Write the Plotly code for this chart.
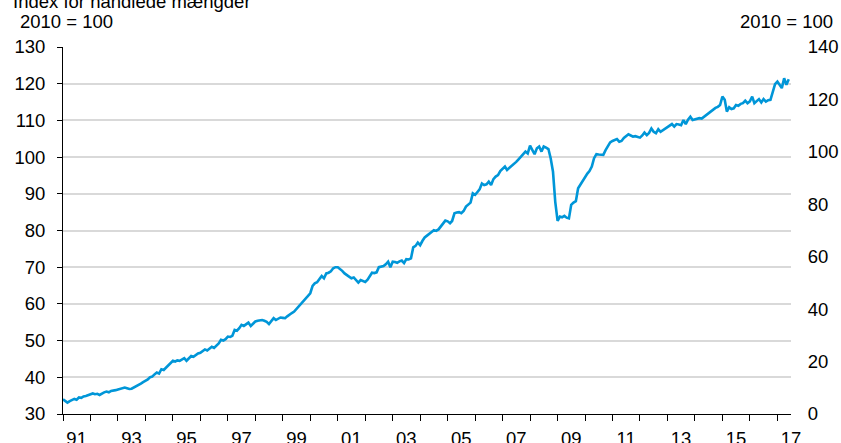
import pandas as pd
import plotly.graph_objects as go

# Monthly index values (2010 = 100)
y1991 = [34.0, 33.6, 33.1, 33.5, 33.9, 34.1, 33.9, 34.5, 34.4, 34.8, 34.9, 35.2]
y1992 = [35.3, 35.6, 35.4, 35.5, 35.2, 35.6, 35.9, 36.1, 35.9, 36.3, 36.3, 36.5]
y1993 = [36.7, 36.9, 37.0, 37.2, 37.0, 36.8, 36.9, 37.2, 37.6, 37.9, 38.3, 38.7]
y1994 = [39.0, 39.4, 40.0, 40.2, 40.8, 41.3, 41.0, 42.2, 42.0, 42.6, 43.4, 43.9]
y1995 = [44.5, 44.3, 44.6, 44.5, 44.9, 45.2, 44.5, 45.3, 45.8, 45.6, 46.1, 46.5]
y1996 = [46.7, 47.2, 47.6, 47.3, 47.9, 48.3, 48.0, 48.6, 49.2, 50.2, 50.0, 50.4]
y1997 = [51.1, 51.0, 51.3, 52.9, 52.7, 53.4, 54.3, 54.0, 54.4, 54.9, 54.0, 54.7]
y1998 = [55.2, 55.4, 55.5, 55.6, 55.4, 55.1, 54.5, 55.3, 56.1, 55.6, 55.9, 56.3]
y1999 = [56.2, 56.1, 56.6, 57.2, 57.5, 57.9, 58.6, 59.4, 59.9, 60.6, 61.3, 62.3]
y2000 = [62.9, 64.9, 65.6, 65.9, 66.7, 67.6, 67.0, 68.3, 68.5, 68.9, 69.7, 70.0]
y2001 = [70.0, 69.6, 69.0, 68.3, 67.9, 67.6, 67.0, 67.2, 66.4, 65.8, 66.5, 66.2]
y2002 = [66.0, 66.6, 67.4, 68.5, 68.4, 68.6, 70.0, 70.1, 70.3, 70.8, 71.5, 70.0]
y2003 = [71.5, 71.4, 71.2, 71.6, 71.8, 71.1, 72.2, 72.1, 72.4, 75.4, 75.8, 76.7]
y2004 = [76.0, 77.2, 78.1, 78.6, 79.2, 79.6, 80.1, 79.9, 80.3, 81.0, 81.8, 82.7]
y2005 = [82.5, 82.0, 82.6, 84.7, 84.9, 85.0, 84.7, 85.3, 86.5, 87.0, 87.6, 90.1]
y2006 = [89.7, 90.5, 91.2, 92.8, 92.4, 92.6, 93.3, 92.4, 94.0, 94.7, 95.1, 96.2]
y2007 = [96.9, 97.4, 96.5, 97.0, 97.7, 98.2, 98.7, 99.4, 100.1, 100.6, 101.5, 101.0]
y2008 = [103.1, 101.9, 100.8, 102.4, 102.9, 101.5, 102.9, 102.6, 102.2, 99.7, 96.0, 87.8]
y2009 = [82.6, 83.8, 83.6, 84.0, 83.5, 83.3, 87.0, 87.6, 88.0, 91.5, 92.5, 93.5]
y2010 = [94.7, 95.5, 96.2, 97.4, 99.7, 100.8, 100.7, 100.6, 100.6, 101.9, 103.0, 104.0]
y2011 = [104.4, 104.7, 104.9, 104.2, 104.4, 105.2, 105.8, 106.2, 105.9, 105.6, 105.7, 105.6]
y2012 = [105.3, 105.9, 106.7, 106.0, 106.6, 107.8, 106.9, 106.5, 107.6, 106.9, 107.3, 107.8]
y2013 = [108.2, 108.7, 109.0, 108.3, 109.0, 108.9, 108.7, 110.1, 109.0, 110.2, 111.0, 110.1]
y2014 = [110.3, 110.5, 110.6, 110.5, 111.0, 111.5, 112.1, 112.6, 113.0, 113.4, 113.7, 114.2]
y2015 = [116.5, 115.6, 112.4, 113.6, 113.1, 113.3, 114.2, 114.0, 114.5, 114.7, 115.4, 114.7]
y2016 = [115.2, 116.5, 114.7, 115.2, 115.8, 114.9, 115.8, 115.1, 115.5, 115.6, 118.0, 119.9]
y2017 = [120.6, 119.6, 118.8, 121.5, 119.7, 121.2]

values = (y1991 + y1992 + y1993 + y1994 + y1995 + y1996 + y1997 + y1998 + y1999
          + y2000 + y2001 + y2002 + y2003 + y2004 + y2005 + y2006 + y2007 + y2008
          + y2009 + y2010 + y2011 + y2012 + y2013 + y2014 + y2015 + y2016 + y2017)
dates = pd.date_range("1991-01-01", periods=len(values), freq="MS")

tick_years = [1991, 1993, 1995, 1997, 1999, 2001, 2003, 2005, 2007, 2009,
              2011, 2013, 2015, 2017]
tick_labels = ["91", "93", "95", "97", "99", "01", "03", "05", "07", "09",
               "11", "13", "15", "17"]
tick_positions = [f"{y}-07-01" for y in tick_years]

FONT = "Arial, Liberation Sans, sans-serif"
FS = 18.5

fig = go.Figure()
fig.add_trace(go.Scatter(x=dates, y=values, mode="lines",
                         line=dict(color="#0096d8", width=2.6),
                         showlegend=False, hoverinfo="skip"))
# invisible trace to activate right axis
fig.add_trace(go.Scatter(x=[dates[0]], y=[0], yaxis="y2", mode="lines",
                         line=dict(width=0), showlegend=False, hoverinfo="skip"))

fig.update_layout(
    width=841, height=443,
    margin=dict(l=63, r=50, t=47, b=29, autoexpand=False),
    paper_bgcolor="white", plot_bgcolor="white",
    font=dict(family=FONT, size=FS, color="black"),
    xaxis=dict(
        type="date", automargin=False,
        range=["1991-01-01", "2017-07-01"],
        tickvals=tick_positions, ticktext=tick_labels,
        ticks="", showgrid=False,
        showline=True, linecolor="black", linewidth=1,
        ticklabelstandoff=8,
        minor=dict(ticks="outside", ticklen=6, tickcolor="black", tickwidth=1,
                   dtick="M12", tick0="1991-01-01", showgrid=False),
        zeroline=False,
    ),
    yaxis=dict(
        range=[30, 130], dtick=10, automargin=False,
        showgrid=True, gridcolor="#d9d9d9", gridwidth=1.5,
        showline=True, linecolor="black", linewidth=1,
        ticks="outside", ticklen=5, tickcolor="black",
        ticklabelstandoff=8,
        zeroline=False,
    ),
    yaxis2=dict(
        range=[0, 140], dtick=20, overlaying="y", side="right", automargin=False,
        showgrid=False, showline=False, zeroline=False,
        ticks="outside", ticklen=12, tickcolor="rgba(0,0,0,0)",
    ),
    annotations=[
        dict(text="Index for handlede mængder", xref="paper", yref="paper",
             x=-0.072, y=1.09, xanchor="left", yanchor="bottom",
             showarrow=False, font=dict(size=FS)),
        dict(text="2010 = 100", xref="paper", yref="paper",
             x=-0.0618, y=1.0354, xanchor="left", yanchor="bottom",
             showarrow=False, font=dict(size=FS)),
        dict(text="2010 = 100", xref="paper", yref="paper",
             x=1.0604, y=1.0354, xanchor="right", yanchor="bottom",
             showarrow=False, font=dict(size=FS)),
    ],
)

fig.write_html("out.html",
               config={"displayModeBar": False},
               post_script="document.body.style.margin='0';"
                           "document.body.style.overflow='hidden';")
